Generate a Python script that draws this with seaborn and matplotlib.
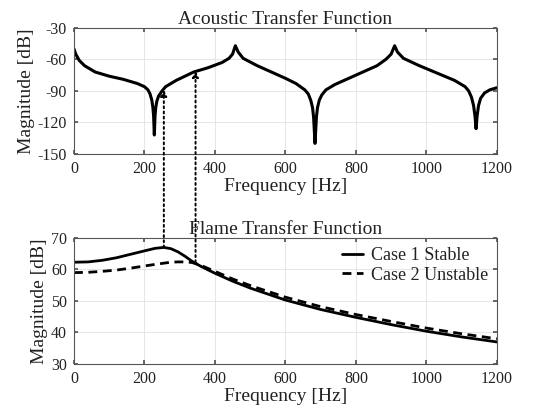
import numpy as np
import pandas as pd
import seaborn as sns
import matplotlib.pyplot as plt
from matplotlib.patches import ConnectionPatch

# acoustic transfer function
atf_freq = [0, 5, 15, 30, 60, 100, 140, 180, 200, 210, 216, 221, 224, 226, 228, 230, 232, 235,
            240, 250, 260, 290, 340, 380, 420, 440, 450, 458, 466, 480, 520, 560, 600, 630,
            655, 665, 672, 677, 680, 684, 688, 691, 696, 703, 715, 740, 780, 820, 860, 885,
            900, 910, 918, 935, 980, 1030, 1080, 1110, 1120, 1128, 1134, 1138, 1141, 1144,
            1148, 1154, 1165, 1180, 1200]
atf_mag = [-50, -55, -61, -66, -72, -76, -79, -83, -86, -89, -93, -99, -106, -114, -132, -114, -106, -100,
           -95, -90, -86, -80, -72, -68, -63, -59, -55, -47, -53, -59, -66, -72, -78, -83,
           -89, -93, -99, -106, -115, -140, -115, -106, -99, -94, -89, -84, -78, -72, -66, -60,
           -55, -47, -53, -59, -66, -73, -80, -86, -90, -96, -104, -114, -126, -114,
           -104, -97, -92, -89, -87]

# flame transfer function
ftf_freq = [0, 40, 80, 120, 160, 200, 230, 255, 275, 295, 315, 335, 360, 400, 450, 500, 600, 700,
            800, 900, 1000, 1100, 1200]
ftf_stable = [62.3, 62.4, 62.9, 63.7, 64.8, 65.9, 66.7, 67.0, 66.6, 65.6, 64.2, 62.6, 61.0, 58.8,
              56.3, 54.1, 50.3, 47.3, 44.8, 42.5, 40.4, 38.6, 37.0]
ftf_unstable = [59.0, 59.1, 59.4, 59.8, 60.4, 61.1, 61.6, 62.0, 62.3, 62.4, 62.4, 62.2, 61.3, 59.4,
                57.0, 54.9, 51.2, 48.2, 45.7, 43.5, 41.4, 39.6, 38.0]

arrow_freq = [255, 345]
arrow_from = [67.0, 62.3]
arrow_to = [-89, -71]

sns.set_theme(style="ticks")
plt.rcParams['font.family'] = ['Liberation Serif', 'DejaVu Serif']
plt.rcParams['axes.unicode_minus'] = False
plt.rcParams['xtick.direction'] = 'in'
plt.rcParams['ytick.direction'] = 'in'

atf_df = pd.DataFrame({'Frequency': atf_freq, 'Magnitude': atf_mag})
ftf_df = pd.concat([
    pd.DataFrame({'Frequency': ftf_freq, 'Magnitude': ftf_stable, 'Case': 'Case 1 Stable'}),
    pd.DataFrame({'Frequency': ftf_freq, 'Magnitude': ftf_unstable, 'Case': 'Case 2 Unstable'}),
])

fig = plt.figure(figsize=(5.38, 4.16), dpi=100)
ax1 = fig.add_axes([0.1375, 0.630, 0.786, 0.303])
ax2 = fig.add_axes([0.1375, 0.125, 0.786, 0.303])

sns.lineplot(data=atf_df, x='Frequency', y='Magnitude', color='black', lw=2.2, ax=ax1)
sns.lineplot(data=ftf_df, x='Frequency', y='Magnitude', style='Case', color='black', lw=2.0,
             dashes={'Case 1 Stable': '', 'Case 2 Unstable': (3.2, 2)}, ax=ax2)

for ax, title in [(ax1, 'Acoustic Transfer Function'), (ax2, 'Flame Transfer Function')]:
    ax.set_xlim(0, 1200)
    ax.set_xticks(range(0, 1201, 200))
    ax.set_xlabel('Frequency [Hz]', fontsize=14, labelpad=1, color='#222222')
    ax.set_ylabel('Magnitude [dB]', fontsize=14, labelpad=2, color='#222222')
    ax.set_title(title, fontsize=14, pad=3, color='#222222')
    ax.grid(True, color='#e2e2e2', lw=0.6)
    ax.tick_params(labelsize=11.5, top=True, right=True, length=3, color='#555555',
                   labelcolor='#222222', pad=5)
    for s in ax.spines.values():
        s.set_color('#555555')
        s.set_linewidth(0.8)

ax1.set_ylim(-150, -30)
ax1.set_yticks(range(-150, -29, 30))
ax2.set_ylim(30, 70)
ax2.set_yticks(range(30, 71, 10))

ax2.legend(loc='upper right', frameon=False, fontsize=13, handlelength=1.2,
           handletextpad=0.4, borderaxespad=0.1, labelspacing=0.15, labelcolor='#222222')

for f, a, b in zip(arrow_freq, arrow_from, arrow_to):
    con = ConnectionPatch(xyA=(f, a), coordsA=ax2.transData, xyB=(f, b), coordsB=ax1.transData,
                          arrowstyle='-|>', linestyle=':', lw=1.4, color='black', mutation_scale=9)
    fig.add_artist(con)

fig.savefig('out.png', dpi=100)
